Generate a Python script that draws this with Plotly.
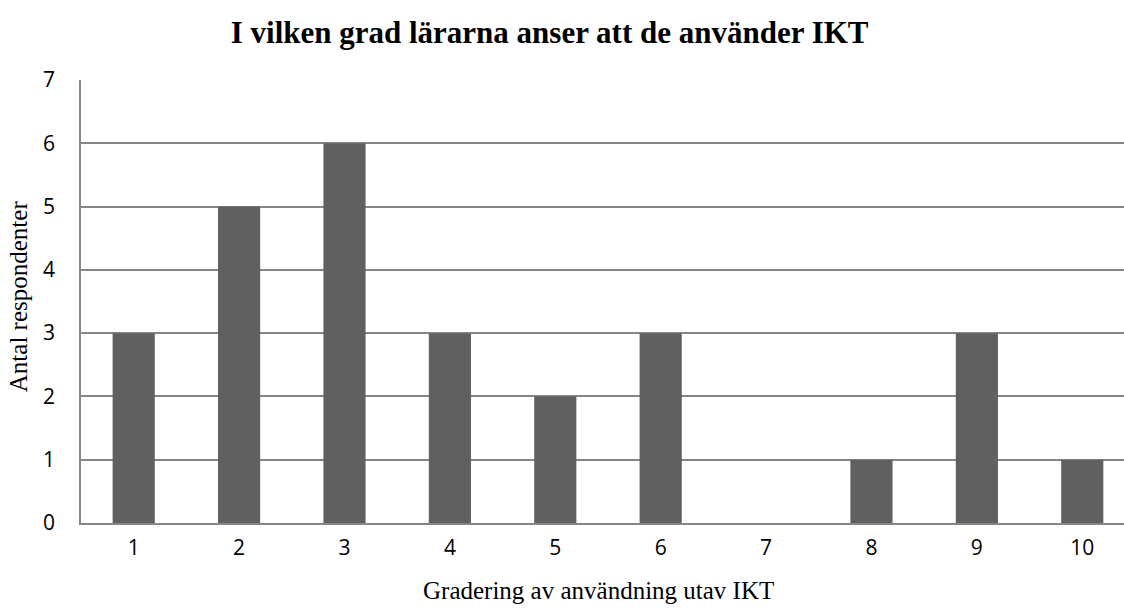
import plotly.graph_objects as go

categories = ["1", "2", "3", "4", "5", "6", "7", "8", "9", "10"]
values = [3, 5, 6, 3, 2, 3, 0, 1, 3, 1]
y_ticks = [0, 1, 2, 3, 4, 5, 6, 7]

title_text = "I vilken grad lärarna anser att de använder IKT"
x_title = "Gradering av användning utav IKT"
y_title = "Antal respondenter"

x_pos = list(range(1, len(categories) + 1))

fig = go.Figure()
fig.add_trace(go.Bar(
    x=x_pos, y=values, width=0.4,
    marker=dict(color="#606060", line=dict(width=0)),
))

fig.update_layout(
    width=1124, height=608, autosize=False,
    margin=dict(l=81, r=0, t=80, b=85),
    paper_bgcolor="white", plot_bgcolor="white",
    showlegend=False,
    title=dict(text="<b>" + title_text + "</b>",
               x=0.489, xanchor="center", y=0.947, yanchor="middle",
               font=dict(family="Liberation Serif", size=31, color="black")),
    xaxis=dict(
        range=[0.5, 10.396], tickmode="array", tickvals=x_pos, ticktext=categories,
        showgrid=False, showline=True, linecolor="#868686", linewidth=1.5,
        ticks="", ticklabelstandoff=5,
        tickfont=dict(family="Open Sans", size=21, color="black"),
        fixedrange=True,
    ),
    yaxis=dict(
        range=[0, 7], tickmode="array", tickvals=y_ticks,
        showgrid=True, gridcolor="#868686", gridwidth=1.5,
        showline=True, linecolor="#868686", linewidth=1.5,
        zeroline=False, ticks="", ticklabelstandoff=20,
        tickfont=dict(family="Open Sans", size=21, color="black"),
        fixedrange=True,
    ),
    annotations=[
        dict(text=x_title, xref="paper", yref="paper", x=0.496, y=-0.153,
             xanchor="center", yanchor="middle", showarrow=False,
             font=dict(family="Liberation Serif", size=25, color="black")),
        dict(text=y_title, xref="paper", yref="paper", x=-0.0604, y=0.512,
             xanchor="center", yanchor="middle", showarrow=False, textangle=-90,
             font=dict(family="Liberation Serif", size=25, color="black")),
    ],
)

fig.write_html("out.html", config={"displayModeBar": False},
               post_script="document.body.style.margin='0';document.body.style.overflow='hidden';")
